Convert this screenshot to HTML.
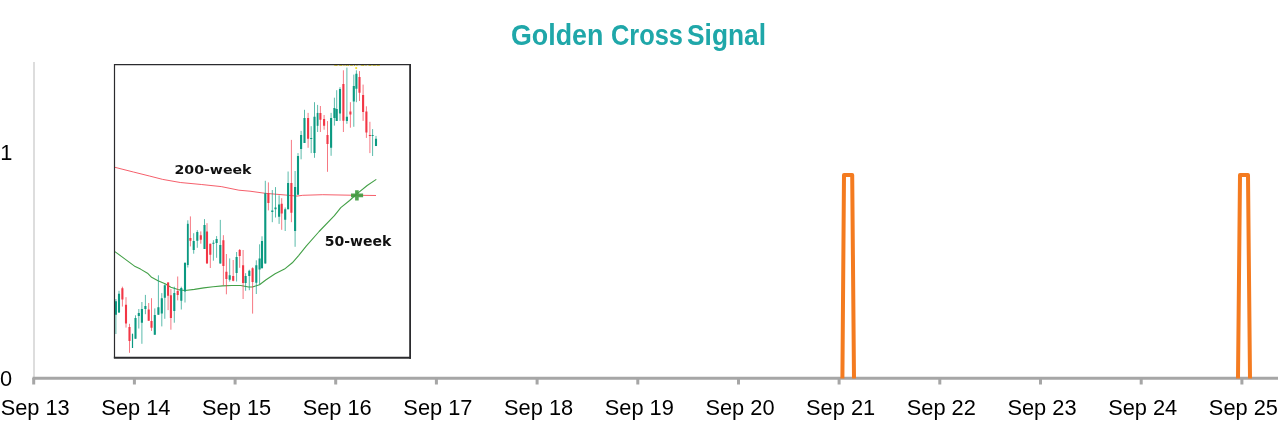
<!DOCTYPE html>
<html lang="en"><head><meta charset="utf-8"><title>Golden Cross Signal</title>
<style>
html,body{margin:0;padding:0;background:#fff;}
body{width:1280px;height:447px;overflow:hidden;font-family:"Liberation Sans",Arial,sans-serif;}
svg{display:block}
.ax text{font-family:"Liberation Sans",Arial,sans-serif;font-size:21.8px;fill:#000;text-anchor:middle}
.ttl{font-family:"Liberation Sans",Arial,sans-serif;font-weight:bold;font-size:29.3px;fill:#1fa7a9}
.lbl{font-family:"DejaVu Sans",Verdana,sans-serif;font-weight:bold;font-size:13px;fill:#111}
</style></head><body>
<svg width="1280" height="447" viewBox="0 0 1280 447">
<rect width="1280" height="447" fill="#fff"/>
<text class="ttl" y="45"><tspan x="511" textLength="92.3" lengthAdjust="spacingAndGlyphs">Golden</tspan><tspan> </tspan><tspan x="611" textLength="72" lengthAdjust="spacingAndGlyphs">Cross</tspan><tspan> </tspan><tspan x="687" textLength="79" lengthAdjust="spacingAndGlyphs">Signal</tspan></text>
<!-- axes -->
<path d="M34 62V378" stroke="#cfcfcf" stroke-width="1.4" fill="none"/>
<path d="M32.5 378.3H1278" stroke="#a6a6a6" stroke-width="3" fill="none"/>
<path d="M33.7 378V384.5M134.4 378V384.5M235.1 378V384.5M335.7 378V384.5M436.4 378V384.5M537.1 378V384.5M637.8 378V384.5M738.5 378V384.5M839.1 378V384.5M939.8 378V384.5M1040.5 378V384.5M1141.2 378V384.5M1241.9 378V384.5" stroke="#a6a6a6" stroke-width="3" fill="none"/>
<g class="ax"><text x="35.2" y="414.7">Sep 13</text><text x="135.9" y="414.7">Sep 14</text><text x="236.6" y="414.7">Sep 15</text><text x="337.2" y="414.7">Sep 16</text><text x="437.9" y="414.7">Sep 17</text><text x="538.6" y="414.7">Sep 18</text><text x="639.3" y="414.7">Sep 19</text><text x="740.0" y="414.7">Sep 20</text><text x="840.6" y="414.7">Sep 21</text><text x="941.3" y="414.7">Sep 22</text><text x="1042.0" y="414.7">Sep 23</text><text x="1142.7" y="414.7">Sep 24</text><text x="1243.4" y="414.7">Sep 25</text>
<text x="6" y="386">0</text><text x="6.3" y="160">1</text></g>
<!-- signal -->
<path d="M842.4 378.4L844 175H852.2L854 378.4" fill="none" stroke="#f47b20" stroke-width="4" stroke-linejoin="round"/>
<path d="M1238 378.4L1240 175H1248L1250 378.4" fill="none" stroke="#f47b20" stroke-width="4" stroke-linejoin="round"/>
<!-- inset -->
<g>
<rect x="114.5" y="64.5" width="295.5" height="293" fill="#fff"/>
<clipPath id="ic"><rect x="115" y="65" width="295" height="292"/></clipPath>
<text x="333" y="66.1" clip-path="url(#ic)" font-family="Liberation Sans,sans-serif" font-weight="bold" font-size="7.2" fill="#f0dc28" textLength="47.3" lengthAdjust="spacingAndGlyphs">Golden Cross</text>
<circle cx="356.2" cy="68.1" r="1.1" fill="#f2e02a"/>
<polyline points="114.9,167.3 133.4,172.0 149.8,176.1 162.7,179.4 180.3,182.5 201.4,184.5 221.3,186.6 238.9,190.2 250.0,191.2 265.2,193.3 285.2,195.0 296.9,196.1 302.7,195.3 322.7,194.7 350.0,195.2 376.0,195.5" fill="none" stroke="#f23645" stroke-width="0.8" stroke-linejoin="round"/>
<polyline points="114.9,251.6 121.7,256.6 128.8,261.9 135.2,266.6 140.5,269.1 147.5,273.2 151.6,277.3 158.0,280.8 165.1,283.8 170.9,287.3 178.0,289.6 185.0,290.5 194.4,289.4 203.8,287.9 213.1,286.7 222.5,285.9 231.9,285.5 240.7,285.5 248.5,287.0 252.4,287.0 259.5,284.8 265.7,280.0 275.1,273.8 284.5,269.1 292.3,262.8 298.6,255.6 306.2,246.2 319.1,231.5 334.4,215.7 340.8,207.6 349.6,200.5 356.6,194.1 367.2,185.5 376.3,179.4" fill="none" stroke="#43a047" stroke-width="1.1" stroke-linejoin="round"/>
<path d="M115.9 299.0V334.0M119.0 290.8V313.0M132.5 333.5V348.0M135.5 315.3V338.7M138.8 309.0V328.5M141.9 302.0V343.8M145.4 294.9V314.2M154.8 308.4V334.8M158.4 275.3V314.8M161.8 293.1V326.4M164.8 284.3V318.8M174.3 286.7V322.7M181.3 286.7V309.5M185.0 262.0V302.5M187.8 220.3V267.5M193.7 233.2V253.7M197.3 230.2V247.8M204.5 219.1V249.0M213.4 240.2V260.7M216.6 236.1V257.8M220.3 219.9V263.6M229.7 258.4V281.6M236.6 252.0V281.5M245.6 273.2V290.8M249.3 269.7V290.2M256.3 260.3V294.0M259.6 244.3V284.4M262.0 236.3V268.3M265.3 180.8V263.6M272.3 190.0V222.2M275.5 187.1V217.5M279.1 195.3V223.9M285.2 207.5V231.0M288.1 171.5V209.3M295.1 171.0V246.8M298.0 153.1V194.7M301.1 130.9V159.3M304.5 109.8V143.0M311.2 126.2V153.1M314.5 102.2V157.8M317.6 104.9V132.0M331.1 112.9V155.8M334.4 97.7V125.6M336.7 90.2V120.9M340.0 87.2V120.9M346.9 67.6V123.8M353.8 74.6V126.8M356.4 70.3V102.2M372.6 129.1V156.0M376.0 135.9V146.1" stroke="#0b9981" stroke-width="0.9" stroke-opacity="0.75" fill="none"/>
<path d="M122.4 286.7V306.6M126.0 297.2V327.6M129.5 323.8V352.8M148.7 303.0V320.8M151.5 298.2V330.9M168.1 282.0V310.1M170.9 289.0V329.7M177.7 276.5V300.4M190.4 216.4V246.4M200.8 231.4V243.7M207.0 223.2V263.6M210.3 243.7V268.0M223.4 235.2V285.5M226.4 254.0V294.3M233.2 260.0V281.3M239.7 249.0V267.8M243.1 250.0V299.0M252.6 267.3V313.6M268.4 182.4V210.4M281.7 198.2V229.8M291.4 139.9V222.2M308.1 112.9V147.8M320.4 106.0V132.0M324.1 115.0V129.7M327.5 121.1V171.8M343.4 70.3V132.0M350.4 102.2V127.7M359.5 71.1V101.0M363.1 84.6V120.9M366.4 106.3V137.9M369.9 121.8V153.1" stroke="#f23645" stroke-width="0.9" stroke-opacity="0.75" fill="none"/>
<path d="M115.9 301.3V314.7M119.0 293.7V312.5M135.5 318.0V338.7M138.8 313.0V316.0M141.9 309.0V322.7M145.4 306.0V309.0M154.8 315.0V334.8M158.4 307.2V314.8M161.8 298.2V313.6M164.8 285.2V297.8M174.3 292.9V310.9M181.3 287.9V300.7M185.0 263.0V291.4M193.7 241.0V249.9M197.3 232.0V240.8M204.5 225.0V249.0M213.4 242.7V243.7M216.6 239.0V243.1M220.3 244.9V263.6M229.7 275.2V279.7M236.6 257.1V273.0M245.6 276.1V283.0M249.3 270.8V276.0M256.3 265.2V282.7M259.6 258.4V269.6M262.0 241.1V268.3M265.3 193.3V263.6M272.3 210.4V212.0M275.5 207.5V209.3M279.1 204.6V216.7M285.2 209.3V219.8M288.1 183.0V209.3M295.1 187.1V231.0M298.0 156.0V194.7M301.1 135.0V149.0M304.5 118.0V142.9M311.2 138.1V139.1M314.5 116.8V153.1M331.1 118.0V147.8M334.4 108.0V118.0M336.7 109.0V120.9M340.0 89.0V113.6M346.9 116.8V120.9M353.8 86.0V101.6M356.4 73.8V88.7M372.6 135.1V136.1M376.0 138.7V146.1" stroke="#0b9981" stroke-width="2.1" fill="none"/>
<path d="M122.4 288.2V299.6M126.0 304.8V323.5M129.5 327.0V341.0M148.7 309.5V320.8M151.5 321.1V327.8M168.1 282.6V295.7M170.9 295.2V318.0M177.7 291.0V294.9M190.4 238.1V240.8M200.8 235.2V239.8M207.0 231.4V263.6M210.3 243.7V254.8M223.4 240.2V266.0M226.4 271.8V278.9M233.2 276.0V280.8M239.7 249.9V256.0M243.1 265.2V283.0M252.6 268.3V282.0M268.4 193.3V202.9M281.7 203.8V213.6M291.4 183.0V212.8M308.1 118.0V138.7M320.4 112.9V119.7M324.1 119.1V125.8M327.5 135.0V144.1M343.4 84.0V120.7M350.4 111.5V114.4M359.5 77.0V92.8M363.1 94.9V112.1M366.4 111.5V132.6M369.9 135.0V136.1" stroke="#f23645" stroke-width="2.1" fill="none"/>
<path d="M132.5 334.0V348.0" stroke="#0b9981" stroke-width="1.2" fill="none"/><path d="M187.8 223.8V265.0" stroke="#0b9981" stroke-width="1.8" fill="none"/><path d="M317.6 112.9V125.8" stroke="#0b9981" stroke-width="1.8" fill="none"/>
<path d="M351 195.4H363.1M356.9 190.3V200.5" stroke="#3f9a3f" stroke-opacity="0.9" stroke-width="3.6" fill="none"/>
<text class="lbl" x="174.5" y="174.45" textLength="77" lengthAdjust="spacingAndGlyphs">200-week</text>
<text class="lbl" style="font-size:13.9px" x="324.7" y="245.6" textLength="66.6" lengthAdjust="spacingAndGlyphs">50-week</text>
<path d="M113.9 64.55H411M114.5 64V358" stroke="#2b2b2e" stroke-width="1.2" fill="none"/>
<path d="M410.1 64V358.7" stroke="#2b2b2e" stroke-width="1.8" fill="none"/>
<path d="M113.85 357.7H411" stroke="#2b2b2e" stroke-width="2" fill="none"/>
</g>
</svg>
</body></html>
